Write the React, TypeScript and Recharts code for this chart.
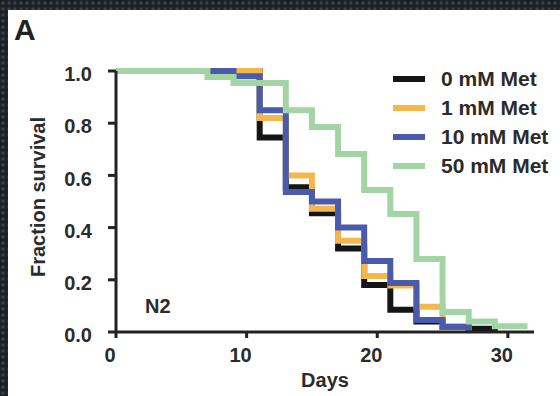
import React from "react";
import {
  LineChart, Line, XAxis, YAxis, Legend, Label, ReferenceDot,
} from "recharts";

// survival sampled every ~2 days; null = curve has ended
const days = [0, 7, 9, 11, 13, 15, 17, 19, 21, 23, 25, 27, 29, 31.5];
const met0 = [1, 1, 1, 0.745, 0.555, 0.455, 0.32, 0.18, 0.085, 0.04, 0.02, 0.012, 0, null];
const met1 = [1, 1, 1, 0.82, 0.6, 0.472, 0.35, 0.215, 0.178, 0.097, 0.02, 0, null, null];
const met10 = [1, 1, 0.98, 0.85, 0.536, 0.5, 0.4, 0.272, 0.188, 0.046, 0.019, 0, null, null];
const met50 = [1, 0.977, 0.954, 0.954, 0.85, 0.785, 0.682, 0.544, 0.452, 0.28, 0.077, 0.04, 0.022, 0.022];

const xTicks = [0, 10, 20, 30];
const yTicks = [0, 0.2, 0.4, 0.6, 0.8, 1.0];

const series = [
  { key: "met0", name: "0 mM Met", color: "#151515" },
  { key: "met1", name: "1 mM Met", color: "#f4b74e" },
  { key: "met10", name: "10 mM Met", color: "#4a5bab" },
  { key: "met50", name: "50 mM Met", color: "#a3d5a4" },
];

const rows = days.map((day, i) => ({
  day,
  met0: met0[i],
  met1: met1[i],
  met10: met10[i],
  met50: met50[i],
}));

const FONT = '"Liberation Sans", Arial, sans-serif';
const INK = "#2b2b2b";

function LegendBox({ payload }: any) {
  return (
    <div style={{ fontFamily: FONT }}>
      {(payload || []).map((p: any) => (
        <div key={p.value} style={{ display: "flex", alignItems: "center", height: 29 }}>
          <span style={{ width: 32, height: 6, background: p.color, marginRight: 16 }} />
          <span style={{ fontSize: 21, fontWeight: 700, color: INK, whiteSpace: "nowrap" }}>
            {p.value}
          </span>
        </div>
      ))}
    </div>
  );
}

export default function App() {
  return (
    <div
      style={{
        position: "fixed",
        left: 0,
        top: 0,
        width: 560,
        height: 396,
        overflow: "hidden",
        backgroundColor: "#1e2126",
        backgroundImage: "radial-gradient(circle at 3px 3px, #3c4149 1.3px, rgba(0,0,0,0) 2px)",
        backgroundSize: "6px 6px",
        fontFamily: FONT,
      }}
    >
      <div style={{ position: "absolute", left: 8, top: 10, width: 552, height: 386, background: "#fff" }} />
      <div
        style={{
          position: "absolute", left: 14, top: 13, fontSize: 30, fontWeight: 700, color: "#222",
        }}
      >
        A
      </div>
      <div style={{ position: "absolute", left: 0, top: 0 }}>
        <LineChart width={560} height={396} data={rows} margin={{ top: 71, right: 26, bottom: 0, left: 56 }}>
          <XAxis
            type="number"
            dataKey="day"
            domain={[0, 32]}
            ticks={xTicks}
            height={64}
            tickSize={6}
            tickMargin={10}
            axisLine={{ stroke: "#222", strokeWidth: 3 }}
            tickLine={{ stroke: "#222", strokeWidth: 3 }}
            tick={{ fill: INK, fontSize: 20, fontWeight: 700, fontFamily: FONT, dx: -6 }}
          >
            <Label
              value="Days"
              position="insideBottom"
              offset={9}
              style={{ fill: INK, fontSize: 20, fontWeight: 700, fontFamily: FONT }}
            />
          </XAxis>
          <YAxis
            type="number"
            domain={[0, 1]}
            ticks={yTicks}
            width={60}
            tickSize={8}
            tickMargin={16}
            tickFormatter={(v: number) => v.toFixed(1)}
            axisLine={{ stroke: "#222", strokeWidth: 3 }}
            tickLine={{ stroke: "#222", strokeWidth: 3 }}
            tick={{ fill: INK, fontSize: 20, fontWeight: 700, fontFamily: FONT, dy: 3 }}
            label={{
              content: () => (
                <text
                  x={38}
                  y={197}
                  transform="rotate(-90 38 197)"
                  textAnchor="middle"
                  dominantBaseline="central"
                  style={{ fill: INK, fontSize: 20, fontWeight: 700, fontFamily: FONT }}
                >
                  Fraction survival
                </text>
              ),
            }}
          />
          <Legend
            layout="vertical"
            align="center"
            verticalAlign="middle"
            wrapperStyle={{ top: 64, left: 393, width: 170 }}
            content={<LegendBox />}
          />
          {series.map((s) => (
            <Line
              key={s.key}
              type="stepAfter"
              dataKey={s.key}
              name={s.name}
              stroke={s.color}
              strokeWidth={6}
              dot={false}
              activeDot={false}
              isAnimationActive={false}
            />
          ))}
          <ReferenceDot
            x={3.2}
            y={0.1}
            r={0}
            stroke="none"
            fill="none"
            label={{ value: "N2", position: "center", fill: INK, fontSize: 20, fontWeight: 700, fontFamily: FONT }}
          />
        </LineChart>
      </div>
    </div>
  );
}
